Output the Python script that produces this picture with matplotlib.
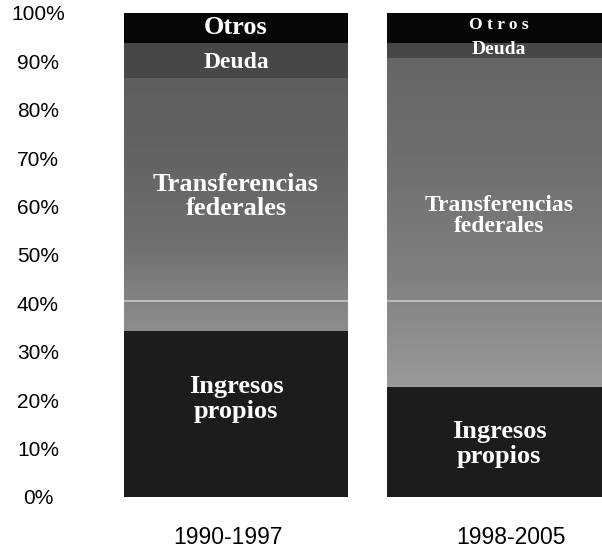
import numpy as np
import matplotlib.pyplot as plt
from matplotlib.colors import LinearSegmentedColormap

periods = ['1990-1997', '1998-2005']
ingresos_propios = [34.3, 22.7]
transferencias = [52.3, 68.0]
deuda = [7.2, 3.1]
otros = [6.2, 6.2]

positions = [0, 1.174]
width = 1.0

fig = plt.figure(figsize=(6.02, 5.49), dpi=100)
ax = fig.add_axes([124 / 602, 52 / 549, 478 / 602, 484 / 549])

serif = ['Liberation Serif', 'DejaVu Serif']
sans = ['Liberation Sans', 'DejaVu Sans']

# stacked segments, bottom to top
b1 = ax.bar(positions, ingresos_propios, width, color='#1c1c1c')
bottom2 = ingresos_propios
b2 = ax.bar(positions, transferencias, width, bottom=bottom2, color='#6c6c6c')
bottom3 = [a + b for a, b in zip(ingresos_propios, transferencias)]
b3 = ax.bar(positions, deuda, width, bottom=bottom3, color='#474747')
bottom4 = [a + b for a, b in zip(bottom3, deuda)]
b4 = ax.bar(positions, otros, width, bottom=bottom4, color='#070707')

# transferencias fade lighter toward the bottom
grad_maps = [
    LinearSegmentedColormap.from_list('t0', ['#8e8e8e', '#707070', '#646464', '#5e5e5e']),
    LinearSegmentedColormap.from_list('t1', ['#9a9a9a', '#808080', '#707070', '#666666']),
]
for patch, cmap in zip(b2.patches, grad_maps):
    x0, y0 = patch.get_x(), patch.get_y()
    grad = np.linspace(0, 1, 256).reshape(-1, 1)
    im = ax.imshow(grad, cmap=cmap, aspect='auto', origin='lower',
                   extent=[x0, x0 + patch.get_width(), y0, y0 + patch.get_height()],
                   zorder=patch.get_zorder() + 0.1)
    im.set_clip_path(patch)

ax.axhline(40.5, color='white', lw=1.2, alpha=0.55, zorder=5)

# segment labels
ax.text(positions[0], 97.0, 'Otros', ha='center', va='center', color='white',
        fontsize=19, fontweight='bold', family=serif, zorder=6)
ax.text(positions[0], 89.7, 'Deuda', ha='center', va='center', color='white',
        fontsize=17, fontweight='bold', family=serif, zorder=6)
ax.text(positions[0], 62.0, 'Transferencias\nfederales', ha='center', va='center',
        color='white', fontsize=19, fontweight='bold', family=serif,
        linespacing=1.05, zorder=6)
ax.text(positions[0], 20.2, 'Ingresos\npropios', ha='center', va='center',
        color='white', fontsize=19, fontweight='bold', family=serif,
        linespacing=1.1, zorder=6)

ax.text(positions[1], 97.6, 'O t r o s', ha='center', va='center', color='white',
        fontsize=12.5, fontweight='bold', family=serif, zorder=6)
ax.text(positions[1], 92.4, 'Deuda', ha='center', va='center', color='white',
        fontsize=14, fontweight='bold', family=serif, zorder=6)
ax.text(positions[1], 58.0, 'Transferencias\nfederales', ha='center', va='center',
        color='white', fontsize=17, fontweight='bold', family=serif,
        linespacing=1.0, zorder=6)
ax.text(positions[1], 11.0, 'Ingresos\npropios', ha='center', va='center',
        color='white', fontsize=19, fontweight='bold', family=serif,
        linespacing=1.1, zorder=6)

ax.set_xlim(-0.5, 1.634)
ax.set_ylim(0, 100)
ax.set_yticks(range(0, 101, 10))
ax.set_yticklabels([f'{v}%' for v in range(0, 101, 10)], family=sans,
                   fontsize=15, ha='center')
ax.tick_params(axis='y', length=0, pad=62)
ax.set_xticks([positions[0] - 0.036, positions[1] + 0.054])
ax.set_xticklabels(periods, family=sans, fontsize=16.5)
ax.tick_params(axis='x', length=0, pad=21)
for side in ax.spines.values():
    side.set_visible(False)

fig.savefig('out.png', dpi=100)
